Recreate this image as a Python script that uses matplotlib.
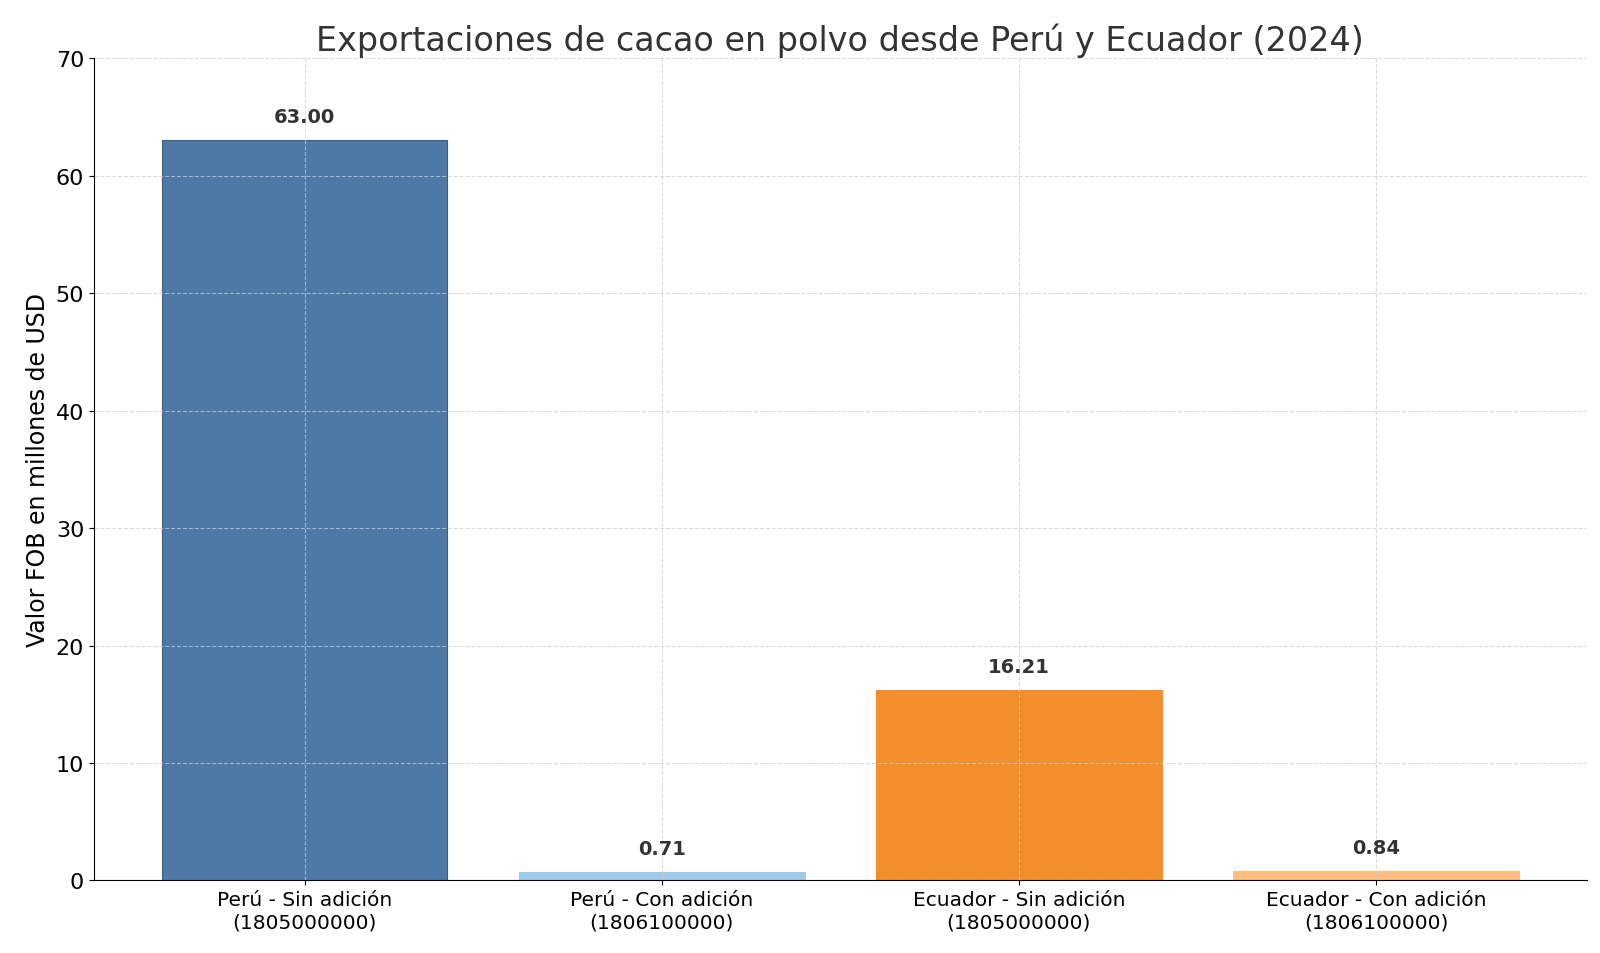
import matplotlib
matplotlib.use("Agg")
import matplotlib.pyplot as plt

categories = ["Perú - Sin adición\n(1805000000)", "Perú - Con adición\n(1806100000)",
              "Ecuador - Sin adición\n(1805000000)", "Ecuador - Con adición\n(1806100000)"]
values = [63.00, 0.71, 16.21, 0.84]
colors = ["#4e79a7", "#9ecae9", "#f28e2b", "#ffbe7d"]
edges = ["#3b5f86", "#9ecae9", "#f28e2b", "#ffbe7d"]

fig = plt.figure(figsize=(16, 9.54), dpi=100)
ax = fig.add_axes([0.0587, 0.076, 0.933, 0.862])
x = range(len(values))
ax.bar(x, values, width=0.8, color=colors, edgecolor=edges, linewidth=0.8)
for xi, v in zip(x, values):
    ax.text(xi, v + 1.2, f"{v:.2f}", ha="center", va="bottom", fontsize=14,
            fontweight="bold", color="#333333")
ax.set_xticks(list(x))
ax.set_xticklabels(categories, fontsize=14.5)
ax.set_xlim(-0.59, 3.59)
ax.set_ylim(0, 70)
ax.set_yticks(range(0, 71, 10))
ax.tick_params(axis="y", labelsize=16)
ax.set_ylabel("Valor FOB en millones de USD", fontsize=17)
ax.set_title("Exportaciones de cacao en polvo desde Perú y Ecuador (2024)", fontsize=24, color="#333333")
ax.grid(True, linestyle="--", color="#cccccc", alpha=0.7)
ax.set_axisbelow(False)
ax.spines["top"].set_visible(False)
ax.spines["right"].set_visible(False)
fig.savefig("out.png", dpi=100)
